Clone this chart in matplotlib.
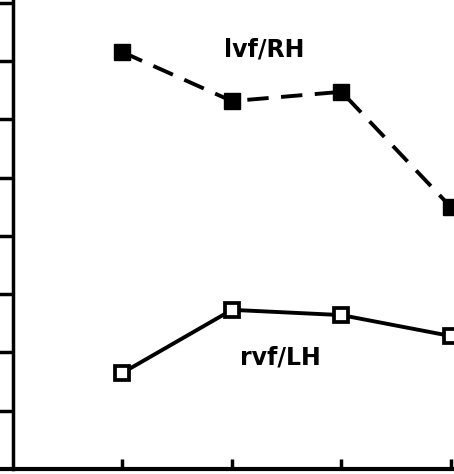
import matplotlib.pyplot as plt

# data (arbitrary units, x = condition index)
conds = [1, 2, 3, 4]
lvf_rh = [7.15, 6.31, 6.47, 4.49]
rvf_lh = [1.65, 2.73, 2.64, 2.28]
yticks = [1, 2, 3, 4, 5, 6, 7, 8]

W, H = 454, 474
fig = plt.figure(figsize=(W / 100, H / 100), dpi=100)

# axes deliberately runs past the right edge (the scan is cropped there)
x0, xunit = 13, 109.5
y0, yunit = 469, 58.3
xmax, ymax = 4.2, 8.1
ax = fig.add_axes([x0 / W, (H - y0) / H, xmax * xunit / W, ymax * yunit / H])
ax.set_xlim(0, xmax)
ax.set_ylim(0, ymax)

ax.plot(conds, lvf_rh, color="black", lw=2.8, ls=(0, (5.5, 3.2)),
        marker="s", ms=11, mfc="black", mec="black", clip_on=False)
ax.plot(conds, rvf_lh, color="black", lw=2.8, ls="-",
        marker="s", ms=10.5, mfc="white", mec="black", mew=2.7, clip_on=False)

ax.text(2.29, 7.19, "lvf/RH", fontsize=17, fontweight="bold",
        ha="center", va="center")
ax.text(2.44, 1.92, "rvf/LH", fontsize=17, fontweight="bold",
        ha="center", va="center")

ax.set_xticks(conds)
ax.set_yticks(yticks)
ax.set_xticklabels([])
ax.set_yticklabels([])
ax.tick_params(axis="x", direction="in", length=7, width=2.5)
ax.tick_params(axis="y", direction="out", length=10, width=2.5)
for s in ["top", "right"]:
    ax.spines[s].set_visible(False)
ax.spines["left"].set_linewidth(2.5)
ax.spines["bottom"].set_linewidth(3)
ax.spines["bottom"].set_bounds(-0.2, xmax)

fig.savefig("out.png", dpi=100)
